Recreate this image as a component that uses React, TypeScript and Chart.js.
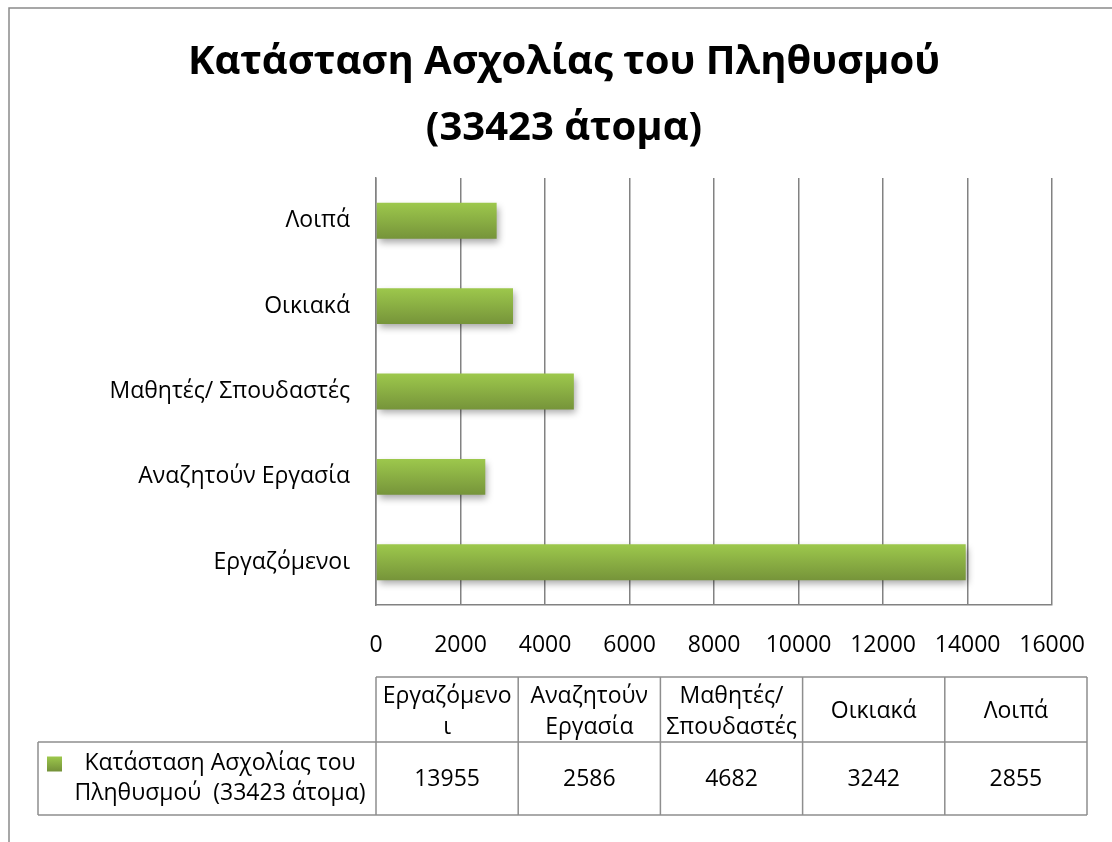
import React, { useEffect, useRef } from "react";
import { Chart, registerables } from "chart.js";

Chart.register(...registerables);

// ---- data ----
const categories = ["Εργαζόμενοι", "Αναζητούν Εργασία", "Μαθητές/ Σπουδαστές", "Οικιακά", "Λοιπά"];
const values = [13955, 2586, 4682, 3242, 2855];
const tableHeaders = [["Εργαζόμενο", "ι"], ["Αναζητούν", "Εργασία"], ["Μαθητές/", "Σπουδαστές"], ["Οικιακά"], ["Λοιπά"]];
const seriesName = "Κατάσταση Ασχολίας του Πληθυσμού  (33423 άτομα)";
const seriesNameLines = ["Κατάσταση Ασχολίας του", "Πληθυσμού  (33423 άτομα)"];
const titleLines = ["Κατάσταση Ασχολίας του Πληθυσμού", "(33423 άτομα)"];
const xMin = 0;
const xMax = 16000;
const xStep = 2000;

// ---- styles ----
const W = 1112;
const H = 842;
const FONT = '"Open Sans", "Noto Sans", sans-serif';
const TEXT_SIZE = 23;
const GRID = "#828282";
const BAR_TOP = "#9dc84c";
const BAR_BOTTOM = "#76943a";
const BAR_PCT = 0.42;

function barGradient(ctx: CanvasRenderingContext2D, y0: number, y1: number) {
  const g = ctx.createLinearGradient(0, y0, 0, y1);
  g.addColorStop(0, BAR_TOP);
  g.addColorStop(1, BAR_BOTTOM);
  return g;
}

const framePlugin = {
  id: "frame",
  beforeDraw(chart: any) {
    const ctx = chart.ctx as CanvasRenderingContext2D;
    ctx.save();
    ctx.fillStyle = "#ffffff";
    ctx.fillRect(0, 0, chart.width, chart.height);
    ctx.strokeStyle = "#8a8a8a";
    ctx.lineWidth = 1.5;
    ctx.strokeRect(9, 8, chart.width + 20, chart.height + 20);
    ctx.fillStyle = "#000000";
    ctx.font = `bold 40px ${FONT}`;
    ctx.textAlign = "center";
    ctx.textBaseline = "alphabetic";
    const cx = 564;
    ctx.fillText(titleLines[0], cx, 74);
    ctx.fillText(titleLines[1], cx, 140);
    ctx.restore();
  },
};

const shadowPlugin = {
  id: "barShadow",
  beforeDatasetDraw(chart: any) {
    const ctx = chart.ctx as CanvasRenderingContext2D;
    ctx.save();
    ctx.shadowColor = "rgba(0,0,0,0.35)";
    ctx.shadowBlur = 7;
    ctx.shadowOffsetX = 2;
    ctx.shadowOffsetY = 4;
  },
  afterDatasetDraw(chart: any) {
    chart.ctx.restore();
  },
};

const tablePlugin = {
  id: "dataTable",
  afterDraw(chart: any) {
    const ctx = chart.ctx as CanvasRenderingContext2D;
    const left = chart.chartArea.left;
    const right = 1087;
    const n = categories.length;
    const colW = (right - left) / n;
    const top = 677;
    const mid = 742;
    const bottom = 815;
    const labelLeft = 38;
    ctx.save();
    ctx.strokeStyle = "#8e8e8e";
    ctx.lineWidth = 1.5;
    ctx.beginPath();
    ctx.moveTo(left, top);
    ctx.lineTo(right, top);
    ctx.moveTo(labelLeft, mid);
    ctx.lineTo(right, mid);
    ctx.moveTo(labelLeft, bottom);
    ctx.lineTo(right, bottom);
    ctx.moveTo(labelLeft, mid);
    ctx.lineTo(labelLeft, bottom);
    for (let i = 0; i <= n; i++) {
      const x = left + i * colW;
      ctx.moveTo(x, top);
      ctx.lineTo(x, bottom);
    }
    ctx.stroke();

    ctx.fillStyle = "#000000";
    ctx.font = `${TEXT_SIZE}px ${FONT}`;
    ctx.textAlign = "center";
    ctx.textBaseline = "middle";
    const lh = 31;
    for (let i = 0; i < n; i++) {
      const cx = left + (i + 0.5) * colW;
      const lines = tableHeaders[i];
      const cy = (top + mid) / 2 + 2;
      lines.forEach((ln, k) => {
        ctx.fillText(ln, cx, cy + (k - (lines.length - 1) / 2) * lh);
      });
      ctx.fillText(String(values[i]), cx, (mid + bottom) / 2 + 1);
    }
    const lcx = 220;
    const lcy = (mid + bottom) / 2;
    seriesNameLines.forEach((ln, k) => {
      ctx.fillText(ln, lcx, lcy + (k - 0.5) * 30);
    });
    const ky = lcy - 15;
    ctx.fillStyle = barGradient(ctx, ky - 7, ky + 7);
    ctx.fillRect(47, ky - 7, 15, 15);
    ctx.restore();
  },
};

export default function App() {
  const ref = useRef<HTMLCanvasElement | null>(null);
  useEffect(() => {
    if (!ref.current) return;
    const chart = new Chart(ref.current, {
      type: "bar",
      data: {
        labels: categories,
        datasets: [
          {
            label: seriesName,
            data: values,
            backgroundColor: (c: any) => {
              const ch = c.chart;
              const ys = ch.scales && ch.scales.y;
              if (!ys || c.dataIndex === undefined || !ys.height) return BAR_TOP;
              const cy = ys.getPixelForValue(c.dataIndex);
              const half = ((ys.height / categories.length) * BAR_PCT) / 2;
              return barGradient(ch.ctx, cy - half, cy + half);
            },
            borderWidth: 0,
            barPercentage: BAR_PCT,
            categoryPercentage: 1,
          },
        ],
      },
      options: {
        indexAxis: "y",
        responsive: false,
        maintainAspectRatio: false,
        animation: false,
        events: [],
        layout: { padding: { left: 0, right: 55, top: 178, bottom: 0 } },
        plugins: {
          legend: { display: false },
          tooltip: { enabled: false },
          title: { display: false },
        },
        scales: {
          x: {
            type: "linear",
            min: xMin,
            max: xMax,
            ticks: {
              stepSize: xStep,
              color: "#000000",
              font: { family: FONT, size: TEXT_SIZE },
              padding: 27,
              maxRotation: 0,
              callback: (v: any) => String(v),
            },
            grid: { color: GRID, lineWidth: 1.5, drawTicks: false },
            border: { display: true, color: GRID, width: 1.5 },
            afterFit: (s: any) => {
              s.height = H - 605;
            },
          },
          y: {
            type: "category",
            reverse: true,
            ticks: {
              color: "#000000",
              font: { family: FONT, size: TEXT_SIZE },
              padding: 26,
            },
            grid: { display: false, drawTicks: false },
            border: { display: true, color: GRID, width: 1.5 },
            afterFit: (s: any) => {
              s.width = 376;
            },
          },
        },
      },
      plugins: [framePlugin, shadowPlugin, tablePlugin],
    } as any);
    return () => chart.destroy();
  }, []);

  return (
    <div style={{ position: "fixed", left: 0, top: 0, width: W, height: H, overflow: "hidden", background: "#fff" }}>
      <canvas ref={ref} width={W} height={H} style={{ width: W, height: H, display: "block" }} />
    </div>
  );
}
